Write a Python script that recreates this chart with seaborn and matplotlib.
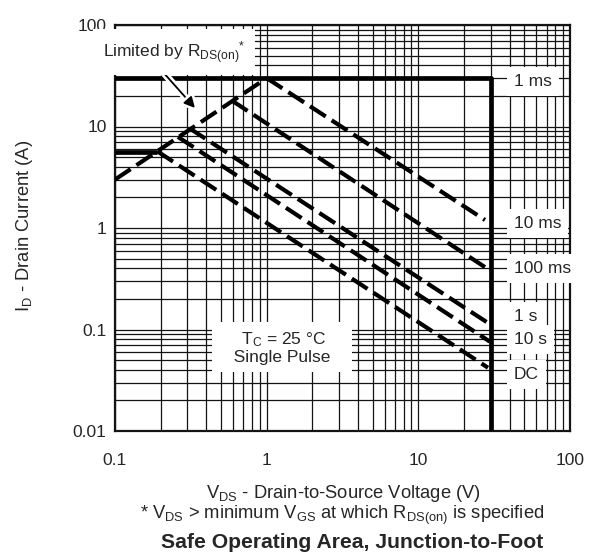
import numpy as np
import pandas as pd
import matplotlib
matplotlib.use("Agg")
import matplotlib.pyplot as plt
import matplotlib.ticker as mticker
import matplotlib.patheffects as pe
import seaborn as sns

# ---------------- data ----------------
# R_DS(on) limit line (dashed)
rds_v = [0.1, 1.0]
rds_i = [3.0, 30.0]
# package / voltage limit (thick solid): 30 A up to 30 V, then vertical
lim_v = [0.1, 30.0, 30.0]
lim_i = [30.0, 30.0, 0.01]
# DC current limit (thick solid)
dclim_v = [0.1, 0.19]
dclim_i = [5.6, 5.6]
# pulse curves (dashed), start on R_DS(on) line, end near 30 V
pulse_names = ["10 ms", "100 ms", "1 s", "10 s", "DC"]
pulse_v0 = [1.0, 0.59, 0.31, 0.26, 0.19]
pulse_i0 = [30.0, 18.0, 9.6, 7.9, 5.7]
pulse_v1 = [27.5, 28.3, 29.6, 29.6, 28.8]
pulse_i1 = [1.2, 0.40, 0.113, 0.076, 0.042]
# curve labels at the right
label_names = ["1 ms", "10 ms", "100 ms", "1 s", "10 s", "DC"]
label_i = [25.1, 1.0, 0.36, 0.121, 0.072, 0.0325]
label_v = 42.7

x_ticks = [0.1, 1, 10, 100]
x_ticklabels = ["0.1", "1", "10", "100"]
y_ticks = [0.01, 0.1, 1, 10, 100]
y_ticklabels = ["0.01", "0.1", "1", "10", "100"]

# ---------------- style ----------------
sns.set_style("white")
plt.rcParams["font.family"] = ["Liberation Sans", "DejaVu Sans"]
plt.rcParams["mathtext.fontset"] = "custom"
plt.rcParams["mathtext.rm"] = "Liberation Sans"
plt.rcParams["mathtext.default"] = "regular"

FS = 12.5
FS_AX = 13.2
FS_TITLE = 15.2
fig = plt.figure(figsize=(5.9, 5.56), dpi=100)
W, H = 590, 556
ax = fig.add_axes([115 / W, 1 - 431 / H, 455 / W, 406 / H])
ax.set_xscale("log")
ax.set_yscale("log")
ax.set_xlim(0.1, 100)
ax.set_ylim(0.01, 100)

DASH = (0, (4.5, 1.7))
LW = 3.0

def line(v, i, **kw):
    df = pd.DataFrame({"V": v, "I": i})
    sns.lineplot(data=df, x="V", y="I", ax=ax, sort=False, estimator=None,
                 color="black", **kw)

line(lim_v, lim_i, linewidth=3.4, zorder=4, solid_capstyle="butt")
line(dclim_v, dclim_i, linewidth=3.4, zorder=4, solid_capstyle="butt")
line(rds_v, rds_i, linewidth=LW, linestyle=DASH, zorder=4)
for v0, i0, v1, i1 in zip(pulse_v0, pulse_i0, pulse_v1, pulse_i1):
    line([v0, v1], [i0, i1], linewidth=LW, linestyle=DASH, zorder=4)

# grid
ax.xaxis.set_major_locator(mticker.FixedLocator(x_ticks))
ax.yaxis.set_major_locator(mticker.FixedLocator(y_ticks))
ax.xaxis.set_minor_locator(mticker.LogLocator(base=10, subs=np.arange(2, 10), numticks=20))
ax.yaxis.set_minor_locator(mticker.LogLocator(base=10, subs=np.arange(2, 10), numticks=20))
ax.xaxis.set_minor_formatter(mticker.NullFormatter())
ax.yaxis.set_minor_formatter(mticker.NullFormatter())
ax.set_xticklabels(x_ticklabels)
ax.set_yticklabels(y_ticklabels)
ax.grid(which="both", color="#141414", linewidth=0.9)
ax.set_axisbelow(True)
ax.tick_params(which="both", length=0)
ax.tick_params(axis="x", pad=16, labelsize=FS)
ax.tick_params(axis="y", pad=6, labelsize=FS)
for s in ax.spines.values():
    s.set_color("#141414")
    s.set_linewidth(1.6)
ax.set_xlabel("")
ax.set_ylabel("")

box = dict(facecolor="white", edgecolor="none", pad=5)
for name, iv in zip(label_names, label_i):
    ax.text(label_v, iv, name, fontsize=FS, ha="left", va="baseline",
            bbox=box, zorder=6)

ax.text(0.083, 48, r"Limited by $R_{DS(on)}$$^{*}$", fontsize=FS, ha="left",
        va="baseline", bbox=dict(facecolor="white", edgecolor="none", pad=7),
        zorder=6, clip_on=False)
ax.annotate("", xy=(0.337, 15.2), xytext=(0.207, 34.4),
            arrowprops=dict(arrowstyle="-|>", color="black", lw=1.3,
                            mutation_scale=16, shrinkA=0, shrinkB=0,
                            path_effects=[pe.withStroke(linewidth=5, foreground="white")]),
            zorder=5)
ax.text(1.26, 0.066, "   $T_C$ = 25 °C   \n   Single Pulse   ", fontsize=FS,
        ha="center", va="center", multialignment="center", linespacing=1.05,
        bbox=dict(facecolor="white", edgecolor="none", pad=5), zorder=6)

fig.text(343 / W, 1 - 493 / H, "$V_{DS}$ - Drain-to-Source Voltage (V)",
         fontsize=FS_AX, ha="center", va="center")
fig.text(342 / W, 1 - 515 / H,
         "* $V_{DS}$ > minimum $V_{GS}$ at which $R_{DS(on)}$ is specified",
         fontsize=FS_AX, ha="center", va="center")
fig.text(352 / W, 1 - 543 / H, "Safe Operating Area, Junction-to-Foot",
         fontsize=FS_TITLE, fontweight="bold", ha="center", va="center")
fig.text(25 / W, 1 - 226 / H, "$I_D$ - Drain Current (A)", fontsize=FS_AX,
         rotation=90, ha="center", va="center")

fig.savefig("out.png", dpi=100)
